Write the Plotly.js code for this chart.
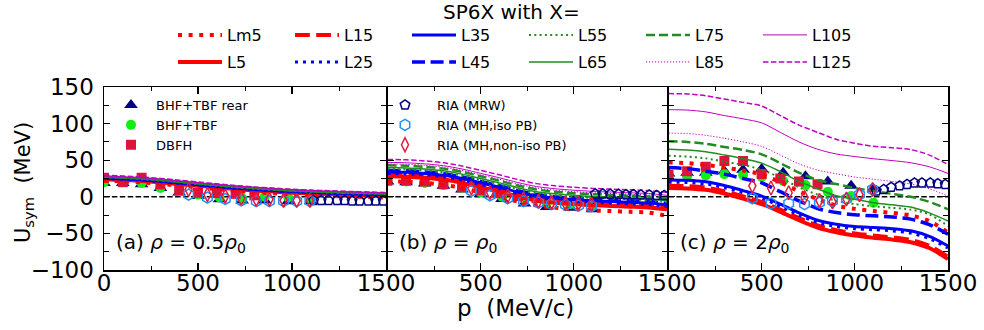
<!DOCTYPE html>
<html><head><meta charset="utf-8">
<script src="https://cdn.plot.ly/plotly-3.0.1.min.js"></script>
<style>body{margin:0;background:#fff}#chart{width:984px;height:330px}</style>
</head><body><div id="chart"></div>
<script>
// momentum grid (MeV/c) for the SP6X curves
const P = [0,100,200,300,400,500,600,700,800,900,1000,1100,1200,1300,1400,1500];

// panel (a) rho = 0.5 rho0
const Lm5_a  = [22,21,19.6,17.7,15.3,12.9,10.5,8.3,6.4,4.8,3.3,2.2,1.2,0.3,-0.3,-1];
const L5_a   = [24,23.1,21.7,19.8,17.4,15.1,12.8,10.6,8.7,7.1,5.7,4.6,3.7,2.8,2.2,1.5];
const L15_a  = [24.5,23.6,22.2,20.3,17.9,15.6,13.3,11.1,9.2,7.6,6.2,5.1,4.2,3.3,2.7,2];
const L25_a  = [25,24.1,22.7,20.8,18.4,16.1,13.8,11.6,9.7,8.1,6.7,5.6,4.7,3.8,3.2,2.5];
const L35_a  = [25.5,24.6,23.2,21.3,18.9,16.6,14.3,12.1,10.2,8.6,7.2,6.1,5.2,4.3,3.7,3];
const L45_a  = [26,25.1,23.7,21.8,19.4,17.1,14.8,12.6,10.7,9.1,7.7,6.6,5.7,4.8,4.2,3.5];
const L55_a  = [26.5,25.5,24.1,22.2,19.8,17.4,15,12.8,10.9,9.3,7.8,6.7,5.7,4.8,4.2,3.5];
const L65_a  = [27,26,24.6,22.7,20.3,17.9,15.5,13.3,11.4,9.8,8.3,7.2,6.2,5.3,4.7,4];
const L75_a  = [27.5,26.5,25.1,23.2,20.8,18.4,16,13.8,11.9,10.3,8.8,7.7,6.7,5.8,5.2,4.5];
const L85_a  = [28,27,25.6,23.7,21.3,18.9,16.5,14.3,12.4,10.8,9.3,8.2,7.2,6.3,5.7,5];
const L105_a = [28.5,27.5,26.1,24.2,21.8,19.4,17,14.8,12.9,11.3,9.8,8.7,7.7,6.8,6.2,5.5];
const L125_a = [29.5,28.5,27.1,25.1,22.6,20.2,17.8,15.5,13.5,11.9,10.4,9.2,8.3,7.4,6.7,6];

// panel (b) rho = rho0
const Lm5_b  = [21,20.5,19,16.5,12,6,0,-6.5,-12,-15,-17,-18.5,-19.5,-20.5,-21.5,-26];
const L5_b   = [28,27.5,26,23.5,19,13,7,0.5,-5,-8,-10,-11.5,-12.5,-13.5,-14.5,-17];
const L15_b  = [30,29.5,28,25.5,21,15,9,2.5,-3,-6,-8,-9.5,-10.5,-11.5,-12.5,-15];
const L25_b  = [32,31.5,30,27.5,23,17,11,4.5,-1,-4,-6,-7.5,-8.5,-9.5,-10.5,-13];
const L35_b  = [34,33.5,32,29.5,25,19,13,6.5,1,-2,-4,-5.5,-6.5,-7.5,-8.5,-11];
const L45_b  = [36,35.5,34,31.5,27,21,15,8.5,3,0,-2,-3.5,-4.5,-5.5,-6.5,-9];
const L55_b  = [38,37.5,36,33.5,29,23,17,10.5,5,2,0,-1.5,-2.5,-3.5,-4.5,-7];
const L65_b  = [40,39.5,38,35.5,31,25,19,12.5,7,4,2,0.5,-0.5,-1.5,-2.5,-5];
const L75_b  = [43,42.5,41,38.5,34,28,22,15.5,10,7,5,3.5,2.5,1.5,0.5,-2];
const L85_b  = [45,44.5,43,40.5,36,30,24,17.5,12,9,7,5.5,4.5,3.5,2.5,0];
const L105_b = [47,46.5,45,42.5,38,32,26,19.5,14,11,9,7.5,6.5,5.5,4.5,2];
const L125_b = [51,50.5,49,46.5,42,36,30,23.5,18,15,13,11.5,10.5,9.5,8.5,6];

// panel (c) rho = 2 rho0
const Lm5_c  = [47,46,43.5,40,36,30.5,20,7.5,-3,-12,-16.5,-19.5,-22,-25.5,-33,-49];
const L5_c   = [12,11.5,9.5,4.5,-2.5,-10,-20.5,-32,-42,-48.5,-53,-56,-58.5,-62,-70,-85];
const L15_c  = [15,14.5,12.5,7.5,0.5,-7,-17.5,-29,-39,-45.5,-50,-53,-55.5,-59,-67,-82];
const L25_c  = [20,19.5,17.5,12.5,5.5,-2,-13,-25,-35,-40.5,-43.5,-45,-46.5,-49.5,-57,-70];
const L35_c  = [23,22.5,20.5,15.5,8.5,1,-10,-22,-32,-37.5,-40.5,-42,-43.5,-46.5,-54,-67];
const L45_c  = [40,38.5,35,31,25,19,7,-5.5,-16,-21.5,-24.5,-26,-27.5,-30.5,-38,-51];
const L55_c  = [56,55,52.5,48,43.5,37,26,13,3,-5.5,-10,-13,-15,-17.5,-24,-40];
const L65_c  = [65,64,61.5,57,52,46,34.5,21,11,1.5,-3.5,-8,-11,-14,-22,-33];
const L75_c  = [76,75,72.5,68,64,58,46,33,23,17.5,12,8,4,0,-7,-17];
const L85_c  = [87,86.5,84,80,75,69,57,45,36.5,31.5,27,24,21,17.5,11,1];
const L105_c = [119,118.5,116,111,106.5,101,88,75,65,58.5,55,52,49.5,46.5,41,32];
const L125_c = [141,140.5,138,133.5,129,124,111,98,88,78.5,73,69,67,64.5,57,44];

// microscopic calculations (markers)
const BHF_P = [0,100,200,300,400,500,615,735,855,980,1100];
const BHFrear_a = [19,19,17,12,6,1,-3.5,-5,-5,-6,-6];
const BHFrear_b = [21,20,18,15,10,4,-3,-9,-14,-15,-17];
const BHFrear_c = [32,33,33,35,37,38,33,28,21,15,11];
const BHF_a = [20,20,19,12,8,3,-1,-2,0,-1,-3];
const BHF_b = [22,21,19,16,12,6,0,-3,-8,-10,-12];
const BHF_c = [28,28,29,31,30,27,22,16,7,1,-8];
const DBFH_P = [0,100,200,300,400,500,600,700,800];
const DBFH_a = [26,20,26,17,9,5.5,5,4,2];
const DBFH_b = [22,22,21,17,13,9,5,1,-2];
const DBFH_c = [30,35,41,49,49,31,25,21,17];
const RIA_P = [450,550,645,730,810,880,955,1025,1095];
const MHnon_a = [10,3,1,-2,-3.5,-3.5,-5,-5,-5];
const MHnon_b = [12,6,1,-3,-6,-8,-9,-9,-10];
const MHnon_c = [15,12,5.5,-1,-5,-7,-3,3,10];
const MHiso_a = [3,-1,-3,-5,-6,-6,-6,-6,-6];
const MHiso_b = [8,2,-2,-6,-8,-10,-11,-12,-13];
const MHiso_c = [-2,-9,-9,-10,-8,-6,-3,3,10];
const MRW_P = [1115,1155,1195,1240,1280,1320,1360,1405,1445,1485];
const MRW_a = [-5,-5,-5,-5,-5,-5.5,-5.5,-5.5,-5.5,-5.5];
const MRW_b = [4,4,3.5,3.5,3,3,2.5,2.5,2,2];
const MRW_c = [8,10,13,15,17,19,19,19,18,17];

const X_TICKS = [0,500,1000,1500];
const X_MINOR = [250,750,1250];
const Y_TICKS = [-100,-50,0,50,100,150];
const Y_MINOR = [-75,-25,25,75,125];

const FONT = 'DejaVu Sans';
const RED = '#ff0000', BLUE = '#0000ff', GREEN = '#228b22', MAG = '#bf00bf';

const SERIES = [
  {name:'Lm5', d:[Lm5_a,Lm5_b,Lm5_c], color:RED, width:4, dash:'4px,6.6px', legend:'legend'},
  {name:'L5', d:[L5_a,L5_b,L5_c], color:RED, width:4, dash:'solid', legend:'legend4'},
  {name:'L15', d:[L15_a,L15_b,L15_c], color:RED, width:4, dash:'14.8px,6.4px', legend:'legend'},
  {name:'L25', d:[L25_a,L25_b,L25_c], color:BLUE, width:3, dash:'3px,5px', legend:'legend4'},
  {name:'L35', d:[L35_a,L35_b,L35_c], color:BLUE, width:3, dash:'solid', legend:'legend'},
  {name:'L45', d:[L45_a,L45_b,L45_c], color:BLUE, width:3.5, dash:'13px,5.6px', legend:'legend4'},
  {name:'L55', d:[L55_a,L55_b,L55_c], color:GREEN, width:2, dash:'2px,3.3px', legend:'legend'},
  {name:'L65', d:[L65_a,L65_b,L65_c], color:GREEN, width:1.5, dash:'solid', legend:'legend4'},
  {name:'L75', d:[L75_a,L75_b,L75_c], color:GREEN, width:2.5, dash:'9px,4px', legend:'legend'},
  {name:'L85', d:[L85_a,L85_b,L85_c], color:MAG, width:1, dash:'1.2px,1.8px', legend:'legend4'},
  {name:'L105', d:[L105_a,L105_b,L105_c], color:MAG, width:1, dash:'solid', legend:'legend'},
  {name:'L125', d:[L125_a,L125_b,L125_c], color:MAG, width:1.5, dash:'5.5px,2.4px', legend:'legend4'}
];

const MARK_LOW = [
  {name:'BHF+TBF rear', x:BHF_P, d:[BHFrear_a,BHFrear_b,BHFrear_c], marker:{symbol:'triangle-up', size:12, color:'#000080'}, legend:'legend2'},
  {name:'BHF+TBF', x:BHF_P, d:[BHF_a,BHF_b,BHF_c], marker:{symbol:'circle', size:10, color:'#11ee11'}, legend:'legend2'},
  {name:'DBFH', x:DBFH_P, d:[DBFH_a,DBFH_b,DBFH_c], marker:{symbol:'square', size:10, color:'#dc143c'}, legend:'legend2'}
];
const MARK_HIGH = [
  {name:'RIA (MRW)', x:MRW_P, d:[MRW_a,MRW_b,MRW_c], marker:{symbol:'pentagon', size:10, color:'rgba(255,255,255,0)', line:{color:'#000080', width:1.5}}, legend:'legend3'},
  {name:'RIA (MH,iso PB)', x:RIA_P, d:[MHiso_a,MHiso_b,MHiso_c], marker:{symbol:'hexagon', size:11, color:'rgba(255,255,255,0)', line:{color:'#1e90ff', width:1.5}}, legend:'legend3'},
  {name:'RIA (MH,non-iso PB)', x:RIA_P, d:[MHnon_a,MHnon_b,MHnon_c], marker:{symbol:'diamond-tall', size:10, color:'rgba(255,255,255,0)', line:{color:'#e6193c', width:1.5}}, legend:'legend3'}
];

const AX = [['x','y'],['x2','y2'],['x3','y3']];
const traces = [];
function addMarkers(list){
  list.forEach(m => {
    for (let k=0;k<3;k++){
      traces.push({type:'scatter', mode:'markers', x:m.x, y:m.d[k], xaxis:AX[k][0], yaxis:AX[k][1],
        name:m.name, legendgroup:m.name, showlegend:k===0, legend:m.legend, marker:m.marker, hoverinfo:'skip'});
    }
  });
}
addMarkers(MARK_LOW);
SERIES.forEach(s => {
  for (let k=0;k<3;k++){
    traces.push({type:'scatter', mode:'lines', x:P, y:s.d[k], xaxis:AX[k][0], yaxis:AX[k][1],
      name:s.name, legendgroup:s.name, showlegend:k===0, legend:s.legend,
      line:{color:s.color, width:s.width, dash:s.dash, shape:'spline', smoothing:0.8}, hoverinfo:'skip'});
  }
});
addMarkers(MARK_HIGH);

const W = 844, H = 183, L0 = 104, T0 = 87;
const px = v => (v - L0) / W;
const py = v => (T0 + H - v) / H;

function xax(domain, labels){
  return {domain, range:[0,1500], tickmode:'array', tickvals:X_TICKS, ticktext:labels,
    ticks:'inside', ticklen:7, tickwidth:1.2, tickcolor:'#000', showline:true, linecolor:'#000', linewidth:1.5,
    mirror:'ticks', showgrid:false, zeroline:false, ticklabelstandoff:-8,
    tickfont:{family:FONT, size:23, color:'#000'},
    minor:{tickmode:'array', tickvals:X_MINOR, ticks:'inside', ticklen:4, tickwidth:1, tickcolor:'#000', showgrid:false}};
}
function yax(anchor, show){
  return {anchor, domain:[0,1], range:[-100,150], tickmode:'array', tickvals:Y_TICKS,
    ticks:'inside', ticklen:6, tickwidth:1.2, tickcolor:'#000', showline:true, linecolor:'#000', linewidth:1.5,
    mirror:'ticks', showgrid:false, zeroline:false, showticklabels:show, ticklabelstandoff:4,
    tickfont:{family:FONT, size:23, color:'#000'},
    minor:{tickmode:'array', tickvals:Y_MINOR, ticks:'inside', ticklen:5, tickwidth:1, tickcolor:'#000', showgrid:false}};
}
// panel domains; neighbouring frames share one border line
const dA = [0, 282/W], dB = [283.5/W, 563/W], dC = [564.5/W, 1];
const lblB = ['', '500', '1000', '1500'];

const legBase = {bgcolor:'rgba(0,0,0,0)', borderwidth:0, tracegroupgap:0};
const layout = {
  width:984, height:330, paper_bgcolor:'#fff', plot_bgcolor:'#fff',
  margin:{l:L0, r:984-L0-W, t:T0, b:330-T0-H},
  font:{family:FONT, color:'#000'},
  xaxis: Object.assign(xax(dA, ['0','500','1000','1500']), {anchor:'y'}),
  xaxis2: Object.assign(xax(dB, lblB), {anchor:'y2'}),
  xaxis3: Object.assign(xax(dC, lblB), {anchor:'y3'}),
  yaxis: yax('x', true),
  yaxis2: yax('x2', false),
  yaxis3: yax('x3', false),
  legend: Object.assign({}, legBase, {orientation:'h', x:px(173), y:py(18), xanchor:'left', yanchor:'top',
    itemwidth:44, entrywidth:58, entrywidthmode:'pixels', font:{family:FONT, size:16, color:'#000'}}),
  legend4: Object.assign({}, legBase, {orientation:'h', x:px(173), y:py(45), xanchor:'left', yanchor:'top',
    itemwidth:44, entrywidth:58, entrywidthmode:'pixels', font:{family:FONT, size:16, color:'#000'}}),
  legend2: Object.assign({}, legBase, {orientation:'v', x:px(106), y:py(90), xanchor:'left', yanchor:'top',
    itemwidth:40, font:{family:FONT, size:13, color:'#000'}}),
  legend3: Object.assign({}, legBase, {orientation:'v', x:px(373), y:py(90), xanchor:'left', yanchor:'top',
    itemwidth:54, font:{family:FONT, size:13, color:'#000'}}),
  shapes: AX.map(a => ({type:'line', xref:a[0], yref:a[1], x0:0, x1:1500, y0:0, y1:0, layer:'below',
    line:{color:'#000', width:1.5, dash:'5.5px,2.4px'}})),
  annotations: [
    {text:'SP6X with X=', xref:'paper', yref:'paper', x:px(511), y:py(12), xanchor:'center', yanchor:'middle', showarrow:false, font:{family:FONT, size:20, color:'#000'}},
    {text:'p\u00a0 (MeV/c)', xref:'paper', yref:'paper', x:px(515), y:py(308), xanchor:'center', yanchor:'middle', showarrow:false, font:{family:FONT, size:23, color:'#000'}},
    {text:'U<sub>sym</sub>\u00a0 (MeV)', xref:'paper', yref:'paper', x:px(24), y:py(183), xanchor:'center', yanchor:'middle', textangle:-90, showarrow:false, font:{family:FONT, size:21, color:'#000'}},
    {text:'(a) <i>ρ</i> = 0.5<i>ρ</i><sub>0</sub>', xref:'x domain', yref:'y domain', x:0.035, y:0.145, xanchor:'left', yanchor:'middle', showarrow:false, font:{family:FONT, size:20, color:'#000'}},
    {text:'(b) <i>ρ</i> = <i>ρ</i><sub>0</sub>', xref:'x2 domain', yref:'y2 domain', x:0.035, y:0.145, xanchor:'left', yanchor:'middle', showarrow:false, font:{family:FONT, size:20, color:'#000'}},
    {text:'(c) <i>ρ</i> = 2<i>ρ</i><sub>0</sub>', xref:'x3 domain', yref:'y3 domain', x:0.035, y:0.145, xanchor:'left', yanchor:'middle', showarrow:false, font:{family:FONT, size:20, color:'#000'}}
  ]
};

Plotly.newPlot('chart', traces, layout, {displayModeBar:false, staticPlot:true});
</script>
</body></html>
